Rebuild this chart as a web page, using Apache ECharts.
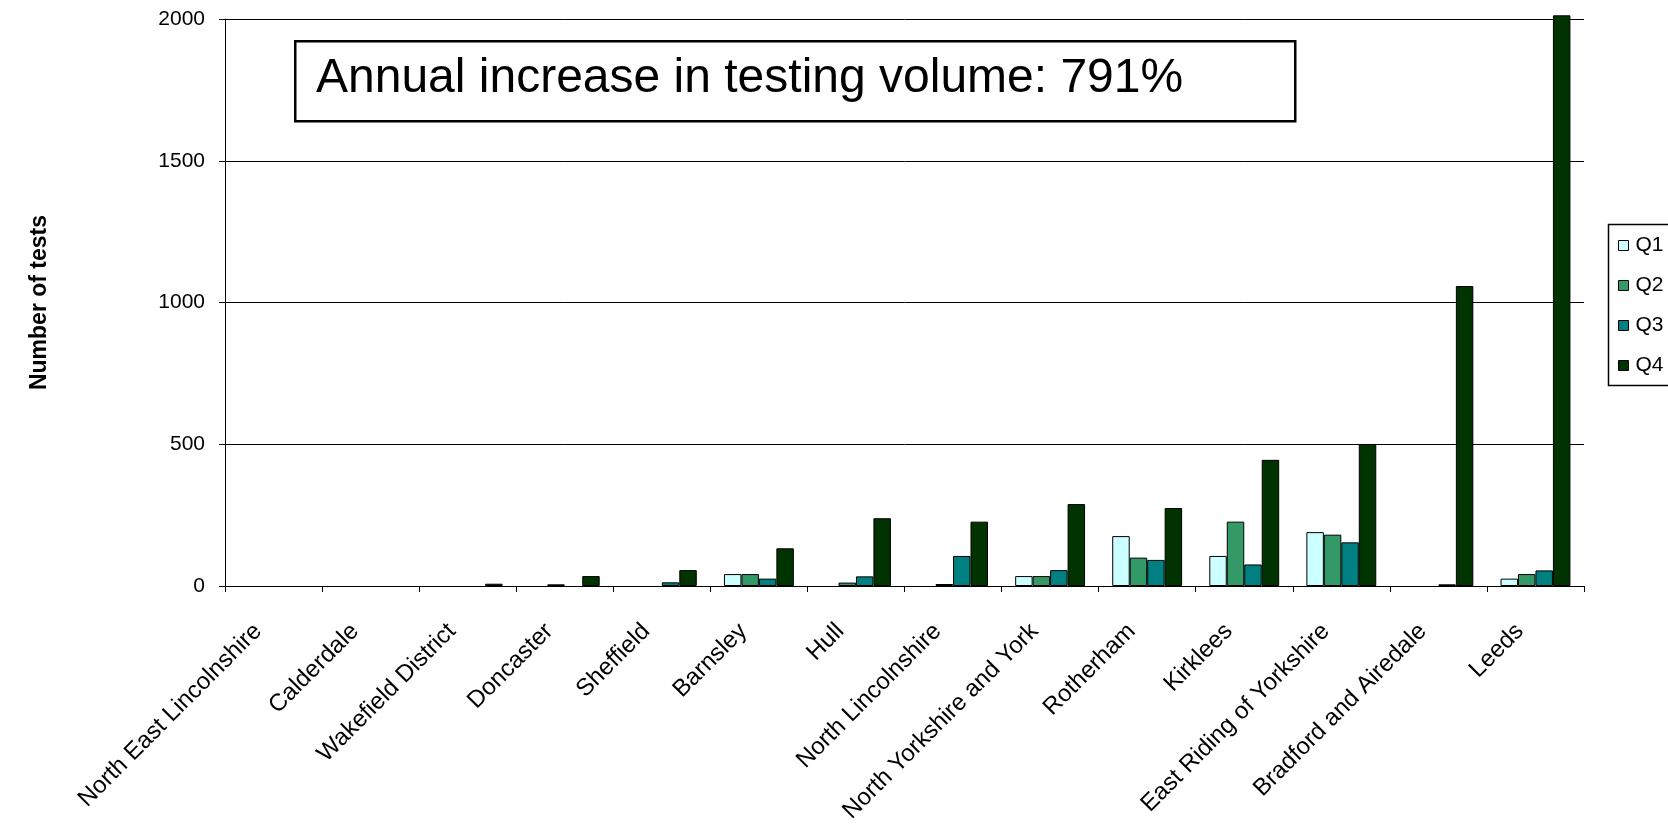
<!DOCTYPE html>
<html>
<head>
<meta charset="utf-8">
<script src="https://cdn.jsdelivr.net/npm/echarts@6/dist/echarts.min.js"></script>
<style>
html,body{margin:0;padding:0;background:#fff;}
#chart{width:1668px;height:835px;}
</style>
</head>
<body>
<div id="chart"></div>
<script>
const categories = ["North East Lincolnshire","Calderdale","Wakefield District","Doncaster","Sheffield","Barnsley","Hull","North Lincolnshire","North Yorkshire and York","Rotherham","Kirklees","East Riding of Yorkshire","Bradford and Airedale","Leeds"];
const seriesNames = ["Q1","Q2","Q3","Q4"];
const q1 = [0,0,0,0,0,42,0,0,35,176,106,190,0,26];
const q2 = [0,0,0,6,0,42,12,7,35,100,227,181,0,42];
const q3 = [0,0,0,0,13,26,34,106,56,92,76,154,6,55];
const q4 = [0,0,8,35,56,133,239,227,289,275,445,501,1058,2013];
const yTicks = [0,500,1000,1500,2000];
const annotation = "Annual increase in testing volume: 791%";
const colors = ["#CCFFFF","#339966","#008080","#003300"];

const chart = echarts.init(document.getElementById('chart'), null, {renderer:'canvas'});
const dataSets = [q1,q2,q3,q4];
const option = {
  backgroundColor:'#ffffff',
  animation:false,
  grid:{left:225,right:84,top:19,bottom:249,containLabel:false},
  legend:{
    orient:'vertical',
    left:1613,
    top:230,
    itemWidth:10,itemHeight:10,itemGap:19,
    icon:'rect',
    textStyle:{fontFamily:'Arial, Liberation Sans',fontSize:21,color:'#000',padding:[0,0,0,2]},
    itemStyle:{borderColor:'#000',borderWidth:1},
    data:seriesNames
  },
  xAxis:{
    type:'category',
    data:categories,
    boundaryGap:true,
    axisLine:{lineStyle:{color:'#000',width:1}},
    axisTick:{show:true,length:6,lineStyle:{color:'#000'}},
    axisLabel:{interval:0,rotate:45,margin:26,fontFamily:'Arial, Liberation Sans',fontSize:24,color:'#000',padding:[0,22,0,0]}
  },
  yAxis:{
    type:'value',
    min:0,max:2000,interval:500,
    name:'Number of tests',
    nameLocation:'middle',
    nameRotate:90,
    nameGap:174,
    nameTextStyle:{fontFamily:'Arial, Liberation Sans',fontWeight:'bold',fontSize:23,color:'#000'},
    axisLine:{show:true,lineStyle:{color:'#000',width:1}},
    axisTick:{show:true,length:6,lineStyle:{color:'#000'}},
    axisLabel:{margin:20,fontFamily:'Arial, Liberation Sans',fontSize:21,color:'#000',
      formatter:function(v){return yTicks.indexOf(v)>=0?String(v):'';}},
    splitLine:{show:true,lineStyle:{color:'#000',width:1}}
  },
  series:seriesNames.map(function(n,i){
    return {
      name:n,type:'bar',
      data:dataSets[i].map(function(v){return v===0?'-':v;}),
      barGap:'0%',barCategoryGap:'28%',
      clip:false,
      itemStyle:{color:colors[i],borderColor:'#000',borderWidth:1}
    };
  }),
  graphic:[
    {type:'rect',left:294,top:40,shape:{width:1000,height:80},
     style:{fill:'#fff',stroke:'#000',lineWidth:2.5},z:100},
    {type:'text',left:316,top:55,z:101,
     style:{text:annotation,font:'48px Arial, "Liberation Sans"',fill:'#000'}},
    {type:'rect',left:1606,top:222,shape:{width:80,height:161},
     style:{fill:'none',stroke:'#000',lineWidth:1.5},z:100}
  ]
};
chart.setOption(option);
</script>
</body>
</html>
